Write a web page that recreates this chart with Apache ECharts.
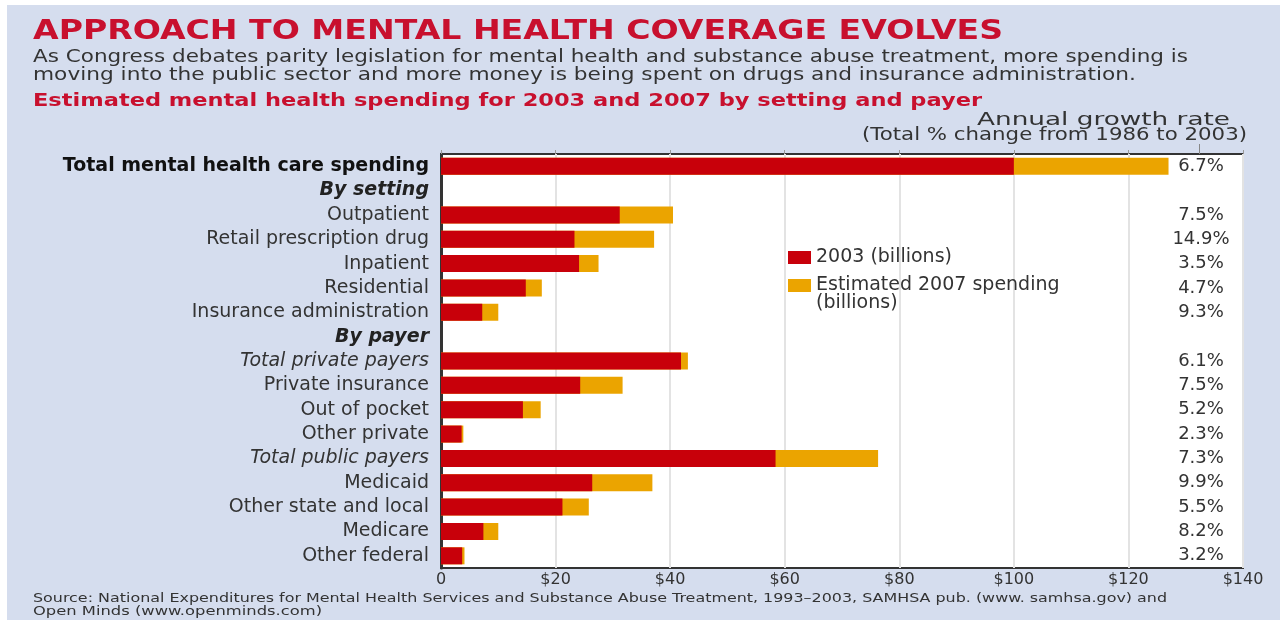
<!DOCTYPE html>
<html>
<head>
<meta charset="utf-8">
<script src="https://cdn.jsdelivr.net/npm/echarts@6/dist/echarts.min.js"></script>
<style>
  html, body { margin: 0; padding: 0; background: #fff; }
  #chart { width: 1280px; height: 620px; }
</style>
</head>
<body>
<div id="chart"></div>
<script>
// Mental health spending by setting and payer, in billions of dollars
const categories = [
  'Total mental health care spending',
  'By setting',
  'Outpatient',
  'Retail prescription drug',
  'Inpatient',
  'Residential',
  'Insurance administration',
  'By payer',
  'Total private payers',
  'Private insurance',
  'Out of pocket',
  'Other private',
  'Total public payers',
  'Medicaid',
  'Other state and local',
  'Medicare',
  'Other federal'
];
const spending2003 = [100, null, 31.2, 23.3, 24.1, 14.8, 7.2, null, 41.9, 24.3, 14.3, 3.6, 58.4, 26.4, 21.2, 7.4, 3.7];
const spending2007 = [127, null, 40.5, 37.2, 27.5, 17.6, 10.0, null, 43.1, 31.7, 17.4, 3.9, 76.3, 36.9, 25.8, 10.0, 4.1];
// Annual growth rate, 1986 to 2003 (percent)
const growthRates = [6.7, null, 7.5, 14.9, 3.5, 4.7, 9.3, null, 6.1, 7.5, 5.2, 2.3, 7.3, 9.9, 5.5, 8.2, 3.2];
const xTicks = [0, 20, 40, 60, 80, 100, 120, 140];

const grandTotal = 'Total mental health care spending';
const sectionHeads = ['By setting', 'By payer'];
const subtotals = ['Total private payers', 'Total public payers'];

const name2003 = '2003 (billions)';
const name2007 = 'Estimated 2007 spending\n(billions)';

const FONT = '"DejaVu Sans", Verdana, sans-serif';
const RED = '#c8102e';
const TEXT = '#333333';

// Header and footer text is stretched to its column width
const measureCtx = document.createElement('canvas').getContext('2d');
function fitText(text, opts) {
  const weight = opts.weight || 'normal';
  measureCtx.font = weight + ' ' + opts.size + 'px ' + FONT;
  const natural = measureCtx.measureText(text).width;
  return {
    type: 'text',
    x: opts.x,
    y: opts.y,
    scaleX: opts.width / natural,
    silent: true,
    style: {
      text: text,
      fontFamily: FONT,
      fontSize: opts.size,
      fontWeight: weight,
      fill: opts.fill || TEXT,
      align: 'left',
      verticalAlign: 'middle'
    }
  };
}

const chart = echarts.init(document.getElementById('chart'));

chart.setOption({
  backgroundColor: '#d5ddee',
  animation: false,
  textStyle: { fontFamily: FONT },
  graphic: [
    { type: 'rect', shape: { x: 0, y: 0, width: 1280, height: 5 }, style: { fill: '#ffffff' }, silent: true },
    { type: 'rect', shape: { x: 0, y: 0, width: 7, height: 620 }, style: { fill: '#ffffff' }, silent: true },
    fitText('APPROACH TO MENTAL HEALTH COVERAGE EVOLVES', { x: 33, y: 32, size: 27, weight: 'bold', width: 970, fill: RED }),
    fitText('As Congress debates parity legislation for mental health and substance abuse treatment, more spending is', { x: 33, y: 57, size: 17.5, width: 1155 }),
    fitText('moving into the public sector and more money is being spent on drugs and insurance administration.', { x: 33, y: 75, size: 17.5, width: 1103 }),
    fitText('Estimated mental health spending for 2003 and 2007 by setting and payer', { x: 33, y: 101, size: 18, weight: 'bold', width: 949, fill: RED }),
    fitText('Annual growth rate', { x: 977, y: 120, size: 18, width: 253 }),
    fitText('(Total % change from 1986 to 2003)', { x: 862, y: 135, size: 18, width: 385 }),
    {
      type: 'line', silent: true,
      shape: { x1: 1199.5, y1: 144, x2: 1199.5, y2: 154 },
      style: { stroke: '#888888', lineWidth: 1 }
    },
    fitText('Source: National Expenditures for Mental Health Services and Substance Abuse Treatment, 1993\u20132003, SAMHSA pub. (www. samhsa.gov) and', { x: 33, y: 599, size: 12, width: 1134 }),
    fitText('Open Minds (www.openminds.com)', { x: 33, y: 612, size: 12, width: 289 })
  ],
  legend: {
    orient: 'vertical',
    left: 783,
    top: 243,
    itemWidth: 23,
    itemHeight: 13,
    itemGap: -9,
    icon: 'rect',
    selectedMode: false,
    textStyle: { fontSize: 19, color: TEXT, lineHeight: 18, fontFamily: FONT },
    // the two-line entry sits with its first line beside the swatch
    formatter: name => (name === name2007 ? '\n' + name : name),
    data: [name2003, name2007]
  },
  grid: {
    left: 441,
    top: 154,
    width: 802,
    height: 414,
    show: true,
    backgroundColor: '#ffffff',
    borderColor: '#333333',
    borderWidth: 2
  },
  xAxis: [
    {
      type: 'value',
      position: 'bottom',
      min: xTicks[0],
      max: xTicks[xTicks.length - 1],
      interval: xTicks[1] - xTicks[0],
      axisLine: { show: false },
      axisTick: { show: false },
      splitLine: { lineStyle: { color: '#e3e3e3', width: 2 } },
      axisLabel: {
        margin: 4,
        color: TEXT,
        fontSize: 16,
        fontFamily: FONT,
        formatter: v => (v === 0 ? '0' : '$' + v)
      }
    },
    {
      type: 'value',
      position: 'top',
      min: xTicks[0],
      max: xTicks[xTicks.length - 1],
      interval: xTicks[1] - xTicks[0],
      axisLine: { show: false },
      axisLabel: { show: false },
      splitLine: { show: false },
      axisTick: { show: true, inside: false, length: 4, lineStyle: { color: '#999999' } }
    }
  ],
  yAxis: [
    {
      type: 'category',
      inverse: true,
      data: categories,
      axisLine: { show: true, lineStyle: { color: '#333333', width: 3 } },
      axisTick: { show: false },
      axisLabel: {
        margin: 12,
        interval: 0,
        formatter: v => {
          if (v === grandTotal) return '{total|' + v + '}';
          if (sectionHeads.includes(v)) return '{head|' + v + '}';
          if (subtotals.includes(v)) return '{sub|' + v + '}';
          return '{plain|' + v + '}';
        },
        rich: {
          total: { fontSize: 19, fontWeight: 'bold', color: '#111111', fontFamily: FONT },
          head: { fontSize: 19, fontWeight: 'bold', fontStyle: 'italic', color: '#222222', fontFamily: FONT },
          sub: { fontSize: 19, fontStyle: 'italic', color: TEXT, fontFamily: FONT },
          plain: { fontSize: 19, color: TEXT, fontFamily: FONT }
        }
      }
    },
    {
      type: 'category',
      inverse: true,
      position: 'right',
      data: categories,
      axisLine: { show: false },
      axisTick: { show: false },
      axisLabel: {
        inside: true,
        margin: 42,
        align: 'center',
        interval: 0,
        color: TEXT,
        fontSize: 18,
        fontFamily: FONT,
        formatter: (v, i) => (growthRates[i] == null ? '' : growthRates[i].toFixed(1) + '%')
      }
    }
  ],
  series: [
    {
      name: name2007,
      type: 'bar',
      xAxisIndex: 0,
      yAxisIndex: 0,
      data: spending2007,
      barWidth: 17,
      barGap: '-100%',
      itemStyle: { color: '#eba400' }
    },
    {
      name: name2003,
      type: 'bar',
      xAxisIndex: 0,
      yAxisIndex: 0,
      data: spending2003,
      barWidth: 17,
      barGap: '-100%',
      itemStyle: { color: '#c8000a' }
    }
  ]
});
</script>
</body>
</html>
